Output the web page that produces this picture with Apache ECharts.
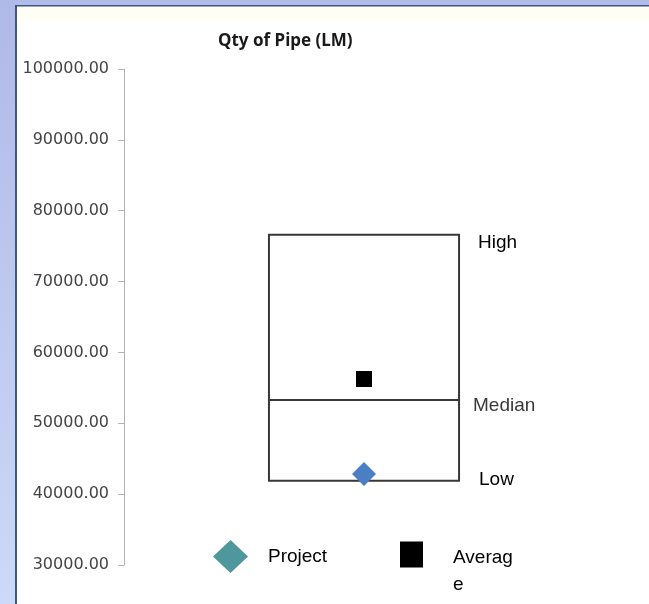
<!DOCTYPE html>
<html>
<head>
<meta charset="utf-8">
<title>Qty of Pipe (LM)</title>
<script src="https://cdn.jsdelivr.net/npm/echarts@6/dist/echarts.min.js"></script>
<style>
  html, body { margin: 0; padding: 0; background: #ffffff; }
  #chart { width: 649px; height: 604px; }
</style>
</head>
<body>
<div id="chart"></div>
<script>
// Range summary for pipe quantity (linear metres)
const categories = ['Qty of Pipe (LM)'];
const lowValues = [41900];
const medianValues = [53300];
const highValues = [76600];
const averageValues = [56250];
const projectValues = [42850];
const rangeLabels = ['High', 'Median', 'Low'];
const seriesNames = ['Project', 'Average'];
const yMin = 30000;
const yMax = 100000;
const yStep = 10000;

const rangeData = categories.map((c, i) => [i, lowValues[i], medianValues[i], highValues[i]]);
const averageData = categories.map((c, i) => [i, averageValues[i]]);
const projectData = categories.map((c, i) => [i, projectValues[i]]);

const labelFamily = 'Liberation Sans, Arial, sans-serif';
const labelFont = { fontFamily: labelFamily, fontSize: 19, fill: '#000000' };

function renderRange(params, api) {
  const cat = api.value(0);
  const top = api.coord([cat, api.value(3)]);
  const mid = api.coord([cat, api.value(2)]);
  const bot = api.coord([cat, api.value(1)]);
  const w = api.size([1, 0])[0] * 0.396;
  const x0 = top[0] - w / 2;
  const x1 = top[0] + w / 2;
  const stroke = { stroke: '#383838', lineWidth: 2 };
  const tx = x1 + 19;
  return {
    type: 'group',
    children: [
      { type: 'rect', shape: { x: x0, y: top[1], width: w, height: bot[1] - top[1] },
        style: Object.assign({ fill: '#ffffff' }, stroke) },
      { type: 'line', shape: { x1: x0, y1: mid[1], x2: x1, y2: mid[1] }, style: stroke },
      { type: 'text', x: tx, y: top[1] + 8,
        style: Object.assign({ text: rangeLabels[0], verticalAlign: 'middle' }, labelFont) },
      { type: 'text', x: tx - 5, y: mid[1] + 6,
        style: Object.assign({ text: rangeLabels[1], verticalAlign: 'middle' }, labelFont, { fill: '#3a3a3a' }) },
      { type: 'text', x: tx + 1, y: bot[1] - 1,
        style: Object.assign({ text: rangeLabels[2], verticalAlign: 'middle' }, labelFont) }
    ]
  };
}

const chart = echarts.init(document.getElementById('chart'), null, { renderer: 'canvas' });

chart.setOption({
  backgroundColor: '#ffffff',
  animation: false,
  graphic: [
    // window frame
    { type: 'rect', z: -10, shape: { x: 0, y: 0, width: 649, height: 5 }, style: { fill: '#b1bbe7' } },
    { type: 'rect', z: -10, shape: { x: 0, y: 0, width: 15, height: 604 },
      style: { fill: new echarts.graphic.LinearGradient(0, 0, 0, 1, [
        { offset: 0, color: '#b0b9e7' }, { offset: 1, color: '#ccd9f7' }]) } },
    { type: 'rect', z: -9, shape: { x: 15, y: 5, width: 2, height: 599 }, style: { fill: '#3f5585' } },
    { type: 'rect', z: -9, shape: { x: 15, y: 5, width: 634, height: 1.5 }, style: { fill: '#3f5585' } },
    { type: 'rect', z: -10, shape: { x: 17, y: 7, width: 632, height: 14 }, style: { fill: '#fffff4' } }
  ],
  title: {
    text: categories[0],
    left: 213,
    top: 28,
    textStyle: { fontFamily: 'Noto Sans, sans-serif', fontWeight: 'bold', fontSize: 17, color: '#1a1a1a' }
  },
  grid: { left: 124, right: 45, top: 69, bottom: 39, containLabel: false },
  xAxis: {
    type: 'category',
    data: categories,
    show: false
  },
  yAxis: {
    type: 'value',
    min: yMin,
    max: yMax,
    interval: yStep,
    axisLine: { show: true, lineStyle: { color: '#b3b3b3', width: 1 } },
    axisTick: { show: true, length: 6, lineStyle: { color: '#b3b3b3' } },
    splitLine: { show: false },
    axisLabel: {
      margin: 15,
      formatter: v => v.toFixed(2),
      fontFamily: 'DejaVu Sans, sans-serif',
      fontSize: 16,
      color: '#444444'
    }
  },
  legend: [
    {
      left: 208, top: 535,
      itemWidth: 35, itemHeight: 33,
      data: [{ name: seriesNames[0], icon: 'diamond', itemStyle: { color: '#3f8e95', opacity: 0.92 } }],
      textStyle: { fontFamily: labelFamily, fontSize: 19, color: '#000000', padding: [0, 0, 0, 15] }
    },
    {
      left: 395, top: 506,
      itemWidth: 23, itemHeight: 26,
      data: [{ name: seriesNames[1], icon: 'rect', itemStyle: { color: '#000000', opacity: 1 } }],
      // wrapped label sits below the icon's centre line
      formatter: name => '{s| }\n{t|' + name.slice(0, 6) + '}\n{t|' + name.slice(6) + '}',
      textStyle: {
        fontFamily: labelFamily, fontSize: 19, color: '#000000', padding: [0, 0, 0, 25],
        rich: {
          s: { fontSize: 19, lineHeight: 33, height: 33 },
          t: { fontFamily: labelFamily, fontSize: 19, lineHeight: 27, color: '#000000' }
        }
      }
    }
  ],
  series: [
    {
      name: 'Range',
      type: 'custom',
      renderItem: renderRange,
      data: rangeData,
      encode: { x: 0, y: [1, 2, 3] },
      z: 1
    },
    {
      name: seriesNames[1],
      type: 'scatter',
      symbol: 'rect',
      symbolSize: 16,
      itemStyle: { color: '#000000', opacity: 1 },
      data: averageData,
      z: 3
    },
    {
      name: seriesNames[0],
      type: 'scatter',
      symbol: 'diamond',
      symbolSize: [24, 24],
      itemStyle: { color: '#4a7fc4', opacity: 1 },
      data: projectData,
      z: 3
    }
  ]
});
</script>
</body>
</html>
